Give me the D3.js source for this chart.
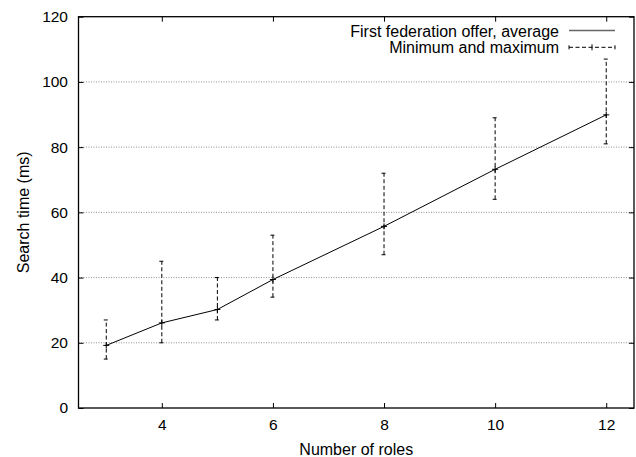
<!DOCTYPE html>
<html><head><meta charset="utf-8">
<script src="https://cdn.jsdelivr.net/npm/d3@7"></script>
<style>body{margin:0;background:#fff}text{font-family:"Liberation Sans",Arial,sans-serif;fill:#000}</style>
</head><body><svg id="c" width="636" height="457"></svg>
<script>
const roles = [3, 4, 5, 6, 8, 10, 12];
const avgTime = [19.2, 26.1, 30.2, 39.4, 55.7, 73.2, 89.9];
const minTime = [15, 20, 27, 34, 47, 64, 81];
const maxTime = [27, 45, 40, 53, 72, 89, 107];
const xTicks = [4, 6, 8, 10, 12];
const yTicks = [0, 20, 40, 60, 80, 100, 120];
const legendLabels = ["First federation offer, average", "Minimum and maximum"];

const svg = d3.select("#c");
const L = 78.5, R = 634, T = 16.7, B = 408;
const x = d3.scaleLinear().domain([2.5, 12.5]).range([L, R]);
const y = d3.scaleLinear().domain([0, 120]).range([B, T]);
const fs = 15.5;

// grid
svg.append("g").selectAll("line").data(yTicks.filter(d => d > 0 && d < 120)).join("line")
  .attr("x1", L).attr("x2", R).attr("y1", d => y(d)).attr("y2", d => y(d))
  .attr("stroke", "#777").attr("stroke-width", 0.8).attr("stroke-dasharray", "1,1.5");

// axes (ticks inward)
const gx = svg.append("g").attr("transform", `translate(0,${B})`)
  .call(d3.axisBottom(x).tickValues(xTicks).tickSize(-5).tickPadding(10));
const gxt = svg.append("g").attr("transform", `translate(0,${T})`)
  .call(d3.axisTop(x).tickValues(xTicks).tickSize(-5).tickFormat(""));
const gy = svg.append("g").attr("transform", `translate(${L},0)`)
  .call(d3.axisLeft(y).tickValues(yTicks).tickSize(-5).tickPadding(10));
const gyr = svg.append("g").attr("transform", `translate(${R},0)`)
  .call(d3.axisRight(y).tickValues(yTicks).tickSize(-5).tickFormat(""));
[gx, gxt, gy, gyr].forEach(g => {
  g.select(".domain").remove();
  g.selectAll("line").attr("stroke", "#000");
  g.selectAll("text").style("font-size", fs + "px").attr("font-family", "Liberation Sans, Arial, sans-serif");
});
gx.selectAll("text").attr("dy", null).attr("y", 22);
gy.selectAll("text").attr("x", -10.5);
svg.append("rect").attr("x", L).attr("y", T).attr("width", R - L).attr("height", B - T)
  .attr("fill", "none").attr("stroke", "#000").attr("stroke-width", 1.3);

// error bars
const eb = svg.append("g");
roles.forEach((r, i) => {
  const cx = x(r);
  eb.append("line").attr("x1", cx).attr("x2", cx).attr("y1", y(minTime[i])).attr("y2", y(maxTime[i]))
    .attr("stroke", "#000").attr("stroke-dasharray", "4,2.5");
  [minTime[i], maxTime[i]].forEach(v => {
    eb.append("line").attr("x1", cx - 2.5).attr("x2", cx + 1.5).attr("y1", y(v)).attr("y2", y(v)).attr("stroke", "#000");
  });
  eb.append("line").attr("x1", cx - 3).attr("x2", cx + 3).attr("y1", y(avgTime[i])).attr("y2", y(avgTime[i])).attr("stroke", "#000");
  eb.append("line").attr("x1", cx).attr("x2", cx).attr("y1", y(avgTime[i]) - 3).attr("y2", y(avgTime[i]) + 3).attr("stroke", "#000");
});

// average line
svg.append("path").datum(roles.map((r, i) => [r, avgTime[i]]))
  .attr("d", d3.line().x(d => x(d[0])).y(d => y(d[1])))
  .attr("fill", "none").attr("stroke", "#000").attr("stroke-width", 1);

// legend
const lg = svg.append("g");
const ly = [30.5, 47.3];
lg.selectAll("text").data(legendLabels).join("text")
  .attr("x", 559).attr("y", (d, i) => ly[i] + 6).attr("text-anchor", "end")
  .style("font-size", "16px").text(d => d);
lg.append("line").attr("x1", 569).attr("x2", 615).attr("y1", ly[0]).attr("y2", ly[0]).attr("stroke", "#666").attr("stroke-width", 1.3);
lg.append("line").attr("x1", 569).attr("x2", 615).attr("y1", ly[1]).attr("y2", ly[1]).attr("stroke", "#000").attr("stroke-dasharray", "4,2.5");
[569, 615].forEach(px => lg.append("line").attr("x1", px).attr("x2", px).attr("y1", ly[1] - 2).attr("y2", ly[1] + 2).attr("stroke", "#000"));
lg.append("line").attr("x1", 592).attr("x2", 592).attr("y1", ly[1] - 3).attr("y2", ly[1] + 3).attr("stroke", "#000");

// titles
svg.append("text").attr("x", (L + R) / 2).attr("y", 455).attr("text-anchor", "middle")
  .style("font-size", "16px").text("Number of roles");
svg.append("text").attr("transform", `translate(29,${(T + B) / 2}) rotate(-90)`).attr("text-anchor", "middle")
  .style("font-size", "16px").text("Search time (ms)");
</script></body></html>
